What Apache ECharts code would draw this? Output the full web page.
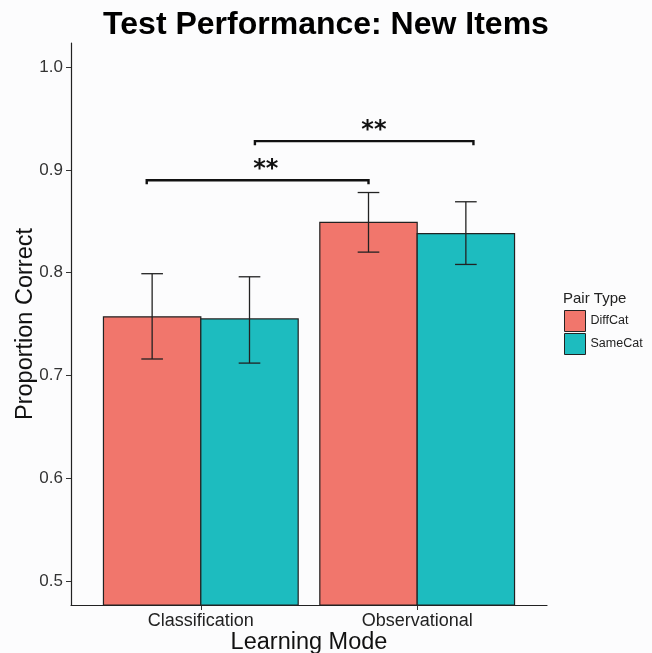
<!DOCTYPE html>
<html><head><meta charset="utf-8">
<script src="https://cdn.jsdelivr.net/npm/echarts@6/dist/echarts.min.js"></script>
<style>html,body{margin:0;padding:0;background:#fcfcfd}#c{width:652px;height:653px}</style>
</head><body><div id="c"></div>
<script>
const categories = ['Classification', 'Observational'];
const seriesNames = ['DiffCat', 'SameCat'];
const diffCatMean = [0.757, 0.849];
const diffCatLow  = [0.716, 0.820];
const diffCatHigh = [0.799, 0.878];
const sameCatMean = [0.755, 0.838];
const sameCatLow  = [0.712, 0.808];
const sameCatHigh = [0.796, 0.869];
const yTicks = [0.5, 0.6, 0.7, 0.8, 0.9, 1.0];
// significance brackets (x in category units, 1 = Classification, 2 = Observational)
const bracketStart = [0.75, 1.25];
const bracketEnd   = [1.775, 2.26];
const bracketY     = [0.890, 0.928];
const starX        = [1.30, 1.80];
const starY        = [0.900, 0.938];
const bracketLabel = ['**', '**'];

const Y_MIN = 0.4766, Y_MAX = 1.0235;
const HALF = 0.225;           // half bar width (dodge 0.9)
const WHISK = 0.05;           // half whisker width
const COLORS = ['#F1766C', '#1DBCBF'];
const FONT = 'Liberation Sans, Arial, sans-serif';

function barRender(offset) {
  return function (params, api) {
    const x = api.value(0) + offset;
    const tl = api.coord([x - HALF, api.value(1)]);
    const br = api.coord([x + HALF, Y_MIN]);
    return {
      type: 'rect',
      shape: { x: tl[0], y: tl[1], width: br[0] - tl[0], height: br[1] - tl[1] },
      style: { fill: api.visual('color'), stroke: '#222', lineWidth: 1.2 }
    };
  };
}
function errRender(offset) {
  return function (params, api) {
    const x = api.value(0) + offset;
    const lo = api.coord([x, api.value(1)]);
    const hi = api.coord([x, api.value(2)]);
    const l = api.coord([x - WHISK, api.value(1)])[0];
    const r = api.coord([x + WHISK, api.value(1)])[0];
    const st = { stroke: '#222', lineWidth: 1.3 };
    return {
      type: 'group',
      children: [
        { type: 'line', shape: { x1: lo[0], y1: lo[1], x2: hi[0], y2: hi[1] }, style: st },
        { type: 'line', shape: { x1: l, y1: lo[1], x2: r, y2: lo[1] }, style: st },
        { type: 'line', shape: { x1: l, y1: hi[1], x2: r, y2: hi[1] }, style: st }
      ]
    };
  };
}
function bracketRender(params, api) {
  const a = api.coord([api.value(0), api.value(2)]);
  const b = api.coord([api.value(1), api.value(2)]);
  const s = api.coord([api.value(3), api.value(4)]);
  const tip = 4;
  return {
    type: 'group',
    children: [
      { type: 'polyline', shape: { points: [[a[0], a[1] + tip], [a[0], a[1]], [b[0], b[1]], [b[0], b[1] + tip]] },
        style: { stroke: '#111', lineWidth: 2.4, fill: null } },
      { type: 'text', x: s[0], y: s[1],
        style: { text: bracketLabel[params.dataIndex], fill: '#111', font: 'bold 24px DejaVu Sans, sans-serif',
                 align: 'center', verticalAlign: 'middle' } }
    ]
  };
}

const diffBars = categories.map((c, i) => [i + 1, diffCatMean[i]]);
const sameBars = categories.map((c, i) => [i + 1, sameCatMean[i]]);
const diffErr = categories.map((c, i) => [i + 1, diffCatLow[i], diffCatHigh[i]]);
const sameErr = categories.map((c, i) => [i + 1, sameCatLow[i], sameCatHigh[i]]);
const brackets = bracketStart.map((s, i) => [s, bracketEnd[i], bracketY[i], starX[i], starY[i]]);

const chart = echarts.init(document.getElementById('c'), null, { renderer: 'canvas' });
chart.setOption({
  backgroundColor: '#fcfcfd',
  animation: false,
  textStyle: { fontFamily: FONT },
  title: [
    { text: 'Test Performance: New Items', left: 'center', top: 9, padding: 0,
      textStyle: { fontSize: 32, fontWeight: 'bold', color: '#000', fontFamily: FONT } },
    { text: 'Pair Type', left: 563, top: 291, padding: 0,
      textStyle: { fontSize: 15, fontWeight: 'normal', color: '#222', fontFamily: FONT } }
  ],
  legend: {
    orient: 'vertical', left: 564, top: 310, itemWidth: 21, itemHeight: 21, itemGap: 1, padding: 0,
    icon: 'rect',
    textStyle: { fontSize: 12.5, color: '#222', fontFamily: FONT },
    data: seriesNames.map(n => ({ name: n, itemStyle: { borderColor: '#222', borderWidth: 1 } }))
  },
  grid: { left: 71, right: 105, top: 43, bottom: 48, containLabel: false, outerBoundsMode: 'none' },
  xAxis: {
    type: 'value', min: 0.4, max: 2.6,
    name: 'Learning Mode', nameLocation: 'middle', nameGap: 26, nameMoveOverlap: false,
    nameTextStyle: { fontSize: 23.5, color: '#111', fontFamily: FONT },
    axisLine: { lineStyle: { color: '#222', width: 1.2 } },
    axisTick: { customValues: [1, 2], length: 5, lineStyle: { color: '#333' } },
    axisLabel: { customValues: [1, 2], formatter: v => categories[Math.round(v) - 1],
                 fontSize: 18, color: '#222', margin: 7, fontFamily: FONT },
    splitLine: { show: false }
  },
  yAxis: {
    type: 'value', min: Y_MIN, max: Y_MAX,
    name: 'Proportion Correct', nameLocation: 'middle', nameGap: 33, nameRotate: 90, nameMoveOverlap: false,
    nameTextStyle: { fontSize: 23.5, color: '#111', fontFamily: FONT },
    axisLine: { show: true, lineStyle: { color: '#222', width: 1.2 } },
    axisTick: { show: true, customValues: yTicks, length: 5, lineStyle: { color: '#333' } },
    axisLabel: { customValues: yTicks, formatter: v => v.toFixed(1),
                 fontSize: 17, color: '#333', margin: 8, fontFamily: FONT },
    splitLine: { show: false }
  },
  series: [
    { name: 'DiffCat', type: 'custom', renderItem: barRender(-HALF), data: diffBars,
      itemStyle: { color: COLORS[0] }, encode: { x: 0, y: 1 }, z: 2 },
    { name: 'SameCat', type: 'custom', renderItem: barRender(HALF), data: sameBars,
      itemStyle: { color: COLORS[1] }, encode: { x: 0, y: 1 }, z: 2 },
    { name: 'errDiff', type: 'custom', renderItem: errRender(-HALF), data: diffErr,
      encode: { x: 0, y: [1, 2] }, z: 3 },
    { name: 'errSame', type: 'custom', renderItem: errRender(HALF), data: sameErr,
      encode: { x: 0, y: [1, 2] }, z: 3 },
    { name: 'brackets', type: 'custom', renderItem: bracketRender, data: brackets,
      encode: { x: [0, 1], y: [2, 4] }, z: 4, clip: false }
  ]
});
</script></body></html>
